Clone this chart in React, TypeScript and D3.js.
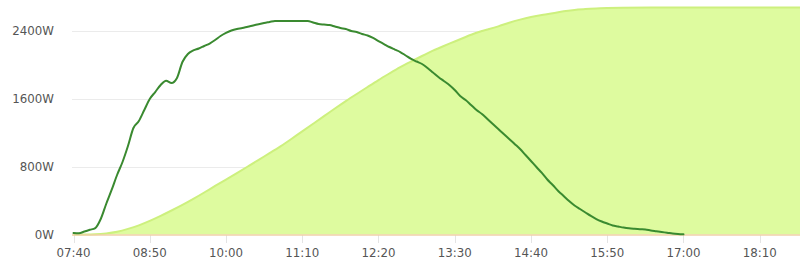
import React from "react";
import * as d3 from "d3";

const powerTimes = [
  "07:40","07:45","07:50","07:55","08:00","08:05","08:10","08:15","08:20","08:25",
  "08:30","08:35","08:40","08:45","08:50","08:55","09:00","09:05","09:10","09:15",
  "09:20","09:25","09:30","09:35","09:40","09:45","09:50","09:55","10:00","10:05",
  "10:10","10:15","10:20","10:25","10:30","10:35","10:40","10:45","10:50","10:55",
  "11:00","11:05","11:10","11:15","11:20","11:25","11:30","11:35","11:40","11:45",
  "11:50","11:55","12:00","12:05","12:10","12:15","12:20","12:25","12:30","12:35",
  "12:40","12:45","12:50","12:55","13:00","13:05","13:10","13:15","13:20","13:25",
  "13:30","13:35","13:40","13:45","13:50","13:55","14:00","14:05","14:10","14:15",
  "14:20","14:25","14:30","14:35","14:40","14:45","14:50","14:55","15:00","15:05",
  "15:10","15:15","15:20","15:25","15:30","15:35","15:40","15:45","15:50","15:55",
  "16:00","16:05","16:10","16:15","16:20","16:25","16:30","16:35","16:40","16:45",
  "16:50","16:55","17:00"
];
const powerValues = [
  18, 14, 35, 55, 76, 182, 359, 524, 700, 853,
  1041, 1253, 1335, 1465, 1594, 1676, 1759, 1809, 1782, 1841,
  2029, 2124, 2165, 2188, 2218, 2247, 2288, 2335, 2371, 2400,
  2418, 2429, 2445, 2459, 2474, 2488, 2500, 2512, 2512, 2512,
  2512, 2512, 2512, 2512, 2494, 2476, 2470, 2465, 2447, 2429,
  2418, 2394, 2382, 2359, 2341, 2312, 2276, 2241, 2206, 2176,
  2147, 2106, 2065, 2035, 2006, 1959, 1906, 1853, 1806, 1759,
  1700, 1629, 1582, 1524, 1465, 1418, 1359, 1300, 1241, 1182,
  1124, 1065, 1006, 935, 865, 794, 724, 647, 582, 512,
  453, 394, 341, 300, 259, 218, 182, 153, 129, 106,
  94, 82, 73, 67, 62, 59, 47, 38, 29, 21,
  12, 6, 2
];

const energyTimes = [
  "07:40","07:50","08:00","08:10","08:20","08:30","08:40","08:50","09:00","09:10",
  "09:20","09:30","09:40","09:50","10:00","10:10","10:20","10:30","10:40","10:50",
  "11:00","11:10","11:20","11:30","11:40","11:50","12:00","12:10","12:20","12:30",
  "12:40","12:50","13:00","13:10","13:20","13:30","13:40","13:50","14:00","14:10",
  "14:20","14:30","14:40","14:50","15:00","15:10","15:20","15:30","15:40","15:50",
  "16:00","16:30","17:00","17:30","18:00","18:30","18:47"
];
const energyValues = [
  0, 0, 2, 12, 29, 65, 106, 159, 218, 282,
  347, 418, 494, 571, 647, 722, 800, 878, 957, 1035,
  1124, 1214, 1303, 1392, 1482, 1571, 1653, 1735, 1818, 1894,
  1971, 2035, 2100, 2165, 2218, 2271, 2324, 2376, 2412, 2447,
  2494, 2529, 2559, 2582, 2600, 2629, 2641, 2653, 2659, 2665,
  2668, 2670, 2671, 2671, 2671, 2671, 2671
];

const xTickLabels = ["07:40","08:50","10:00","11:10","12:20","13:30","14:40","15:50","17:00","18:10"];
const yTickValues = [0, 800, 1600, 2400];
const domainStart = "07:40";
const domainEnd = "18:47";

const toMin = (s: string) => {
  const [h, m] = s.split(":").map(Number);
  return h * 60 + m;
};

export default function App() {
  const W = 800, H = 271;
  const x = d3.scaleLinear().domain([toMin(domainStart), toMin(domainEnd)]).range([73.5, 800]);
  const y = d3.scaleLinear().domain([0, 2400]).range([234.5, 30.5]);

  const powerData = powerTimes.map((t, i) => ({ t: toMin(t), v: powerValues[i] }));
  const energyData = energyTimes.map((t, i) => ({ t: toMin(t), v: energyValues[i] }));

  const area = d3.area<{ t: number; v: number }>()
    .x(d => x(d.t)).y0(y(0)).y1(d => y(d.v)).curve(d3.curveBasis);
  const areaLine = d3.line<{ t: number; v: number }>()
    .x(d => x(d.t)).y(d => y(d.v)).curve(d3.curveBasis);
  const line = d3.line<{ t: number; v: number }>()
    .x(d => x(d.t)).y(d => y(d.v)).curve(d3.curveMonotoneX);

  const font = "'DejaVu Sans', Verdana, sans-serif";

  return (
    <svg width={W} height={H} style={{ position: "absolute", left: 0, top: 0, background: "#fff" }}>
      {yTickValues.filter(v => v > 0).map(v => (
        <line key={v} x1={72} x2={800} y1={Math.round(y(v)) + 0.5} y2={Math.round(y(v)) + 0.5}
          stroke="#ebebeb" strokeWidth={1} />
      ))}
      {xTickLabels.map(l => (
        <line key={"t" + l} x1={Math.round(x(toMin(l))) + 0.5} x2={Math.round(x(toMin(l))) + 0.5}
          y1={235} y2={243} stroke="#e4e4e4" strokeWidth={1} />
      ))}
      <path d={area(energyData) || ""} fill="#defb9f" />
      <path d={areaLine(energyData) || ""} fill="none" stroke="#cdf07e" strokeWidth={2} />
      <line x1={72} x2={800} y1={235} y2={235} stroke="#f0d0a8" strokeWidth={1.5} />
      <path d={line(powerData) || ""} fill="none" stroke="#3a8a30" strokeWidth={2}
        strokeLinejoin="round" strokeLinecap="round" />
      {yTickValues.map(v => (
        <text key={"y" + v} x={54} y={y(v)} dy="0.35em" textAnchor="end"
          fontFamily={font} fontSize={11.8} fill="#555">{v}W</text>
      ))}
      {xTickLabels.map(l => (
        <text key={"x" + l} x={x(toMin(l))} y={257} textAnchor="middle"
          fontFamily={font} fontSize={11.8} fill="#555">{l}</text>
      ))}
    </svg>
  );
}
